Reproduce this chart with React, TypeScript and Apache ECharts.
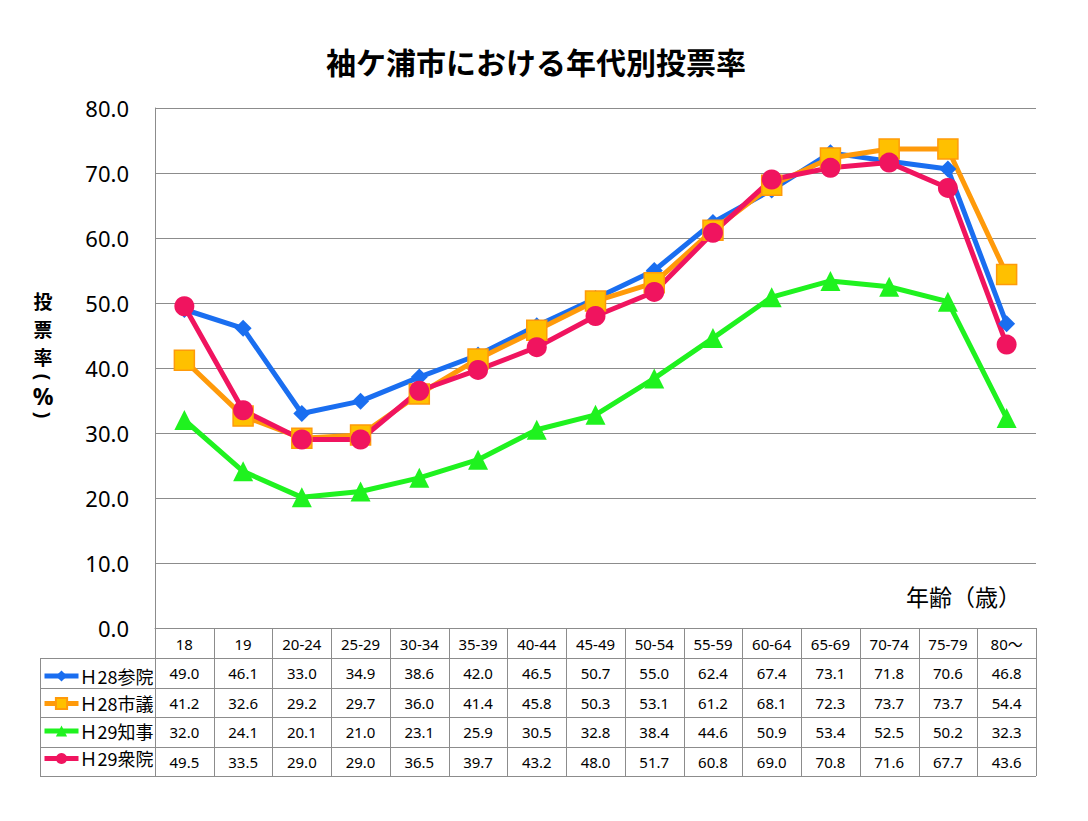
import React, { useEffect, useRef } from "react";
import * as echarts from "echarts";

const categories = ["18", "19", "20-24", "25-29", "30-34", "35-39", "40-44", "45-49", "50-54", "55-59", "60-64", "65-69", "70-74", "75-79", "80～"];
const h28Sangiin = [49.0, 46.1, 33.0, 34.9, 38.6, 42.0, 46.5, 50.7, 55.0, 62.4, 67.4, 73.1, 71.8, 70.6, 46.8];
const h28Shigi = [41.2, 32.6, 29.2, 29.7, 36.0, 41.4, 45.8, 50.3, 53.1, 61.2, 68.1, 72.3, 73.7, 73.7, 54.4];
const h29Chiji = [32.0, 24.1, 20.1, 21.0, 23.1, 25.9, 30.5, 32.8, 38.4, 44.6, 50.9, 53.4, 52.5, 50.2, 32.3];
const h29Shugiin = [49.5, 33.5, 29.0, 29.0, 36.5, 39.7, 43.2, 48.0, 51.7, 60.8, 69.0, 70.8, 71.6, 67.7, 43.6];
const seriesNames = ["Ｈ28参院", "Ｈ28市議", "Ｈ29知事", "Ｈ29衆院"];
const seriesData = [h28Sangiin, h28Shigi, h29Chiji, h29Shugiin];
const yAxisNameChars = ["投", "票", "率", "(", "%", ")"];

const W = 1088;
const H = 821;
const GL = 155;
const GR = 1036;
const GT = 108;
const GB = 628;
const LEG_L = 40;
const HEADER_H = 30;
const ROW_H = 29.5;
const GRID_COLOR = "#8c8c8c";
const FONT = "'Noto Sans', 'Noto Sans CJK JP', sans-serif";
const CJK = "'Noto Sans CJK JP', sans-serif";

export default function App() {
  const ref = useRef<HTMLDivElement>(null);
  useEffect(() => {
    if (!ref.current) return;
    const chart = echarts.init(ref.current, null, { renderer: "svg" });
    const colW = (GR - GL) / categories.length;
    const tableBottom = GB + HEADER_H + ROW_H * seriesNames.length;
    const graphics: any[] = [];
    for (let i = 0; i <= categories.length; i++) {
      const x = Math.round(GL + i * colW) + 0.5;
      graphics.push({ type: "line", shape: { x1: x, y1: GB, x2: x, y2: tableBottom }, style: { stroke: GRID_COLOR, lineWidth: 1 } });
    }
    graphics.push({ type: "line", shape: { x1: LEG_L + 0.5, y1: GB + HEADER_H, x2: LEG_L + 0.5, y2: tableBottom }, style: { stroke: GRID_COLOR, lineWidth: 1 } });
    for (let r = 0; r <= seriesNames.length; r++) {
      const y = Math.round(GB + HEADER_H + r * ROW_H) + 0.5;
      graphics.push({ type: "line", shape: { x1: LEG_L, y1: y, x2: GR, y2: y }, style: { stroke: GRID_COLOR, lineWidth: 1 } });
    }
    graphics.push({
      type: "text", left: 906, top: 584,
      style: { text: "年齢（歳）", font: `23px ${CJK}`, fill: "#000" },
    });
    const nameY = [300, 328, 356, 377, 396, 415];
    yAxisNameChars.forEach((c, i) => {
      const isParen = c === "(" || c === ")";
      graphics.push({
        type: "group", x: 43, y: nameY[i],
        rotation: isParen ? -Math.PI / 2 : 0,
        children: [{
          type: "text",
          style: {
            x: 0, y: 0,
            text: c,
            font: c === "%" ? `bold 23px ${FONT}` : isParen ? `bold 19px ${FONT}` : `bold 19px ${CJK}`,
            fill: "#000", align: "center", verticalAlign: "middle",
          },
        }],
      });
    });

    chart.setOption({
      animation: false,
      title: {
        text: "袖ケ浦市における年代別投票率",
        left: 321,
        top: 41,
        textStyle: { fontFamily: CJK, fontSize: 30, fontWeight: "bold", color: "#000" },
      },
      grid: { left: GL, right: W - GR, top: GT, bottom: H - GB },
      legend: {
        orient: "vertical",
        left: LEG_L - 3,
        top: GB + HEADER_H + 4,
        itemWidth: 34,
        itemHeight: 14,
        itemGap: 9.5,
        data: seriesNames,
        lineStyle: { width: 5 },
        textStyle: { fontFamily: CJK, fontSize: 18, color: "#000", padding: [0, 0, 0, -4] },
      },
      xAxis: {
        type: "category",
        data: categories,
        boundaryGap: true,
        axisLine: { lineStyle: { color: GRID_COLOR } },
        axisTick: { show: false },
        axisLabel: {
          interval: 0,
          margin: 1,
          fontFamily: FONT,
          fontSize: 15,
          color: "#000",
          lineHeight: ROW_H,
          formatter: (v: string, idx: number) => [v, ...seriesData.map((s) => s[idx].toFixed(1))].join("\n"),
        },
      },
      yAxis: {
        type: "value",
        min: 0,
        max: 80,
        interval: 10,
        axisLine: { show: true, lineStyle: { color: GRID_COLOR } },
        axisTick: { show: false },
        splitLine: { lineStyle: { color: GRID_COLOR } },
        axisLabel: { fontFamily: FONT, fontSize: 22, color: "#000", margin: 26, formatter: (v: number) => v.toFixed(1) },
      },
      series: [
        {
          name: seriesNames[0], type: "line", data: h28Sangiin, symbol: "diamond", symbolSize: 17,
          lineStyle: { color: "#1a6ef0", width: 5 }, itemStyle: { color: "#1a6ef0" },
        },
        {
          name: seriesNames[1], type: "line", data: h28Shigi, symbol: "rect", symbolSize: 20,
          lineStyle: { color: "#ff9a0a", width: 5 }, itemStyle: { color: "#ffc000", borderColor: "#ff9a0a", borderWidth: 1.5 },
        },
        {
          name: seriesNames[2], type: "line", data: h29Chiji, symbol: "triangle", symbolSize: 20,
          lineStyle: { color: "#1ff21f", width: 5 }, itemStyle: { color: "#1ff21f" },
        },
        {
          name: seriesNames[3], type: "line", data: h29Shugiin, symbol: "circle", symbolSize: 20,
          lineStyle: { color: "#f0145f", width: 5 }, itemStyle: { color: "#f0145f" },
        },
      ],
      graphic: graphics,
    });
    return () => chart.dispose();
  }, []);
  return <div ref={ref} style={{ width: W, height: H, margin: -8 }} />;
}
